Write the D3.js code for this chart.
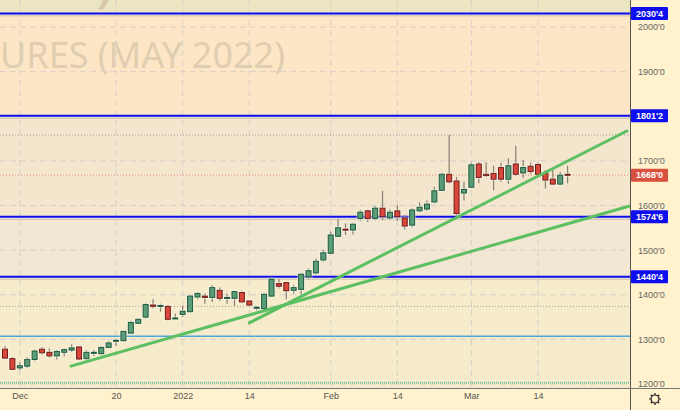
<!DOCTYPE html>
<html><head><meta charset="utf-8">
<script src="https://cdn.jsdelivr.net/npm/d3@7"></script>
<style>body{margin:0;background:#fff2cc}svg{display:block}</style>
</head><body><svg id="c" width="680" height="410"></svg>
<script>
// ---- data ----
const tickIdx = [2, 15, 24, 33, 44, 53, 63, 72];
const tickLabels = ["Dec", "20", "2022", "14", "Feb", "14", "Mar", "14"];
const open  = [1278,1257,1236,1240,1255,1278,1271,1263,1271,1276,1283,1257,1270,1268,1282,1297,1297,1314,1336,1350,1377,1374,1374,1347,1356,1362,1395,1397,1394,1410,1393,1392,1405,1386,1371,1369,1397,1425,1427,1410,1412,1440,1449,1478,1493,1531,1547,1545,1571,1588,1571,1594,1572,1588,1572,1556,1588,1592,1608,1634,1670,1655,1628,1641,1693,1670,1672,1685,1659,1693,1673,1688,1692,1672,1659,1648,1670];
const high  = [1285,1261,1249,1260,1277,1283,1280,1276,1280,1289,1285,1276,1276,1285,1297,1302,1319,1342,1347,1382,1390,1380,1377,1358,1375,1400,1406,1403,1422,1416,1403,1409,1409,1388,1375,1404,1440,1435,1429,1422,1448,1459,1481,1501,1541,1569,1560,1561,1590,1591,1599,1633,1591,1601,1578,1594,1607,1611,1642,1673,1758,1664,1653,1696,1698,1697,1689,1696,1706,1734,1702,1696,1696,1679,1681,1675,1689];
const low   = [1256,1231,1231,1236,1251,1266,1259,1255,1262,1272,1254,1252,1263,1265,1280,1285,1296,1312,1335,1347,1369,1362,1342,1345,1350,1361,1390,1380,1384,1386,1380,1375,1381,1373,1365,1365,1396,1414,1390,1403,1401,1435,1446,1474,1491,1530,1534,1535,1566,1563,1567,1567,1568,1566,1546,1551,1585,1588,1605,1633,1650,1578,1611,1640,1650,1664,1634,1653,1648,1666,1662,1670,1669,1638,1646,1646,1650];
const close = [1258,1233,1241,1255,1274,1270,1263,1273,1277,1281,1256,1271,1271,1282,1292,1298,1318,1338,1345,1378,1374,1376,1345,1348,1363,1397,1403,1394,1416,1392,1394,1407,1384,1377,1372,1401,1435,1419,1409,1416,1446,1454,1475,1494,1534,1550,1545,1558,1585,1571,1594,1575,1585,1575,1554,1590,1596,1603,1633,1670,1653,1582,1636,1691,1663,1667,1659,1659,1689,1670,1685,1676,1670,1657,1648,1668,1668];
const yTicks = [1200,1300,1400,1500,1600,1700,1800,1900,2000];
const yLabelTicks = [1200,1300,1400,1500,1600,1700,1900,2000];
const levels = [2030.5, 1801.25, 1574.75, 1440.5];
const lastPrice = 1668;
const dottedLevels = [1758, 1374];
const cyanLevel = 1307;
const greenDotLevel = 1203;
// trendlines: [startIndex, startPrice, endIndex, endPrice]
const trendA = [33, 1337, 84.0, 1767];
const trendB = [8.9, 1240, 84.4, 1599];

// ---- scales ----
const W = 680, H = 410, PR = 630, PB = 388;
const x = d3.scaleLinear().domain([0, 76]).range([5, 567.6]);
const y = d3.scaleLinear().domain([1200, 2000]).range([384, 27]);
const fmt = p => { const i = Math.floor(p); return i + "'" + Math.round((p - i) * 8); };

const svg = d3.select("#c");
svg.append("rect").attr("width", W).attr("height", H).attr("fill", "#fff2cc");

const defs = svg.append("defs");
defs.append("clipPath").attr("id", "plot").append("rect").attr("width", PR).attr("height", PB);
const plot = svg.append("g").attr("clip-path", "url(#plot)");

// zone backgrounds
const zones = [
  [2100, levels[0], "#ece5c1"],
  [levels[0], levels[1], "#fde6c6"],
  [levels[1], levels[2], "#f4e6cd"],
  [levels[2], levels[3], "#f2e7d2"],
  [levels[3], 1100, "#f6ebcb"]
];
plot.selectAll("rect.zone").data(zones).join("rect").attr("class", "zone")
  .attr("x", 0).attr("width", PR)
  .attr("y", d => Math.max(0, y(d[0]))).attr("height", d => y(d[1]) - Math.max(0, y(d[0])))
  .attr("fill", d => d[2]);

// watermark
plot.append("text").attr("x", 96).attr("y", 0).attr("font-family", "Noto Sans").attr("font-size", 60)
  .attr("fill", "#d6c8a8").text(")");
plot.append("text").attr("x", 285).attr("y", 68).attr("text-anchor", "end")
  .attr("font-family", "Noto Sans").attr("font-size", 36).attr("fill", "#e0ceb0")
  .text("SOYBEAN FUTURES (MAY 2022)");

// grid
plot.selectAll("line.hg").data(yTicks).join("line").attr("class", "hg")
  .attr("x1", 0).attr("x2", PR).attr("y1", d => y(d)).attr("y2", d => y(d))
  .attr("stroke", "#d8cfc8").attr("stroke-dasharray", "6,4");
plot.selectAll("line.vg").data(tickIdx).join("line").attr("class", "vg")
  .attr("y1", 0).attr("y2", PB).attr("x1", d => x(d)).attr("x2", d => x(d))
  .attr("stroke", "#d8cfc8").attr("stroke-dasharray", "6,4");

// dotted / thin levels
plot.selectAll("line.dl").data(dottedLevels).join("line").attr("class", "dl")
  .attr("x1", 0).attr("x2", PR).attr("y1", d => y(d)).attr("y2", d => y(d))
  .attr("stroke", "#9a9a9a").attr("stroke-dasharray", "1,2");
plot.append("line").attr("x1", 0).attr("x2", PR).attr("y1", y(lastPrice)).attr("y2", y(lastPrice))
  .attr("stroke", "#e58f7c").attr("stroke-dasharray", "1,2");
plot.append("line").attr("x1", 0).attr("x2", PR).attr("y1", y(cyanLevel)).attr("y2", y(cyanLevel))
  .attr("stroke", "#4aa8d8").attr("stroke-width", 1.3);
plot.append("line").attr("x1", 0).attr("x2", PR).attr("y1", y(greenDotLevel)).attr("y2", y(greenDotLevel))
  .attr("stroke", "#6cc79a").attr("stroke-width", 2).attr("stroke-dasharray", "1,1");

// blue levels
plot.selectAll("line.lvhalo").data(levels).join("line").attr("class", "lvhalo")
  .attr("x1", 0).attr("x2", PR).attr("y1", d => y(d) + 2.5).attr("y2", d => y(d) + 2.5)
  .attr("stroke", "#c9c0ae").attr("stroke-width", 1);
plot.selectAll("line.lv").data(levels).join("line").attr("class", "lv")
  .attr("x1", 0).attr("x2", PR).attr("y1", d => y(d)).attr("y2", d => y(d))
  .attr("stroke", "#0d0df0").attr("stroke-width", 2);

// candles
const idx = d3.range(open.length);
const cg = plot.append("g");
cg.selectAll("line.wick").data(idx).join("line").attr("class", "wick")
  .attr("x1", i => x(i)).attr("x2", i => x(i)).attr("y1", i => y(high[i])).attr("y2", i => y(low[i]))
  .attr("stroke", "#858075").attr("stroke-width", 1.2);
const bw = 5;
cg.selectAll("rect.halo").data(idx).join("rect").attr("class", "halo")
  .attr("x", i => x(i) - bw / 2 - 1.5).attr("width", bw + 3)
  .attr("y", i => y(Math.max(open[i], close[i])) - 1.5)
  .attr("height", i => Math.max(1, Math.abs(y(open[i]) - y(close[i]))) + 3)
  .attr("fill", "#ffffff").attr("opacity", 0.45);
cg.selectAll("rect.body").data(idx).join("rect").attr("class", "body")
  .attr("x", i => x(i) - bw / 2).attr("width", bw)
  .attr("y", i => y(Math.max(open[i], close[i])))
  .attr("height", i => Math.max(1, Math.abs(y(open[i]) - y(close[i]))))
  .attr("fill", i => close[i] >= open[i] ? "#5a9d78" : "#d8473a")
  .attr("stroke", i => close[i] >= open[i] ? "#1f5a3a" : "#701e18").attr("stroke-width", 1);

// trendlines
plot.selectAll("line.tr").data([trendA, trendB]).join("line").attr("class", "tr")
  .attr("x1", d => x(d[0])).attr("y1", d => y(d[1])).attr("x2", d => x(d[2])).attr("y2", d => y(d[3]))
  .attr("stroke", "#5cbf62").attr("stroke-width", 3).attr("stroke-linecap", "round");

// axes frame
svg.append("line").attr("x1", PR + 0.5).attr("x2", PR + 0.5).attr("y1", 0).attr("y2", H).attr("stroke", "#555");
svg.append("line").attr("x1", 0).attr("x2", W).attr("y1", PB + 0.5).attr("y2", PB + 0.5).attr("stroke", "#777");

// right axis
const ra = svg.append("g").attr("transform", `translate(${PR},0)`)
  .call(d3.axisRight(y).tickValues(yLabelTicks).tickFormat(fmt).tickSize(0).tickPadding(8));
ra.select(".domain").remove();
ra.selectAll("text").attr("font-family", "Liberation Sans").attr("font-size", 9).attr("fill", "#666");

// bottom axis
const ba = svg.append("g").attr("transform", `translate(0,${PB})`)
  .call(d3.axisBottom(x).tickValues(tickIdx).tickFormat((d, i) => tickLabels[i]).tickSize(0).tickPadding(5));
ba.select(".domain").remove();
ba.selectAll("text").attr("font-family", "Liberation Sans").attr("font-size", 9).attr("fill", "#555");

// level labels
const lab = svg.append("g");
const labData = levels.map(v => ({v, c: "#0d0df0"})).concat([{v: lastPrice, c: "#d9503f"}]);
lab.selectAll("rect").data(labData).join("rect")
  .attr("x", PR + 1).attr("width", 37).attr("y", d => y(d.v) - 6.5).attr("height", 13)
  .attr("rx", 1).attr("fill", d => d.c);
lab.selectAll("text").data(labData).join("text")
  .attr("x", PR + 19.5).attr("y", d => y(d.v) + 3.3).attr("text-anchor", "middle")
  .attr("font-family", "Liberation Sans").attr("font-weight", "bold").attr("font-size", 9)
  .attr("fill", "#fff").text(d => fmt(d.v));

// gear icon
const gear = svg.append("g").attr("transform", "translate(655,399)");
gear.append("circle").attr("r", 4).attr("fill", "none").attr("stroke", "#222").attr("stroke-width", 1.2);
gear.selectAll("line").data(d3.range(8)).join("line")
  .attr("x1", a => 4 * Math.cos(a * Math.PI / 4)).attr("y1", a => 4 * Math.sin(a * Math.PI / 4))
  .attr("x2", a => 6 * Math.cos(a * Math.PI / 4)).attr("y2", a => 6 * Math.sin(a * Math.PI / 4))
  .attr("stroke", "#222").attr("stroke-width", 1.2);
</script></body></html>
